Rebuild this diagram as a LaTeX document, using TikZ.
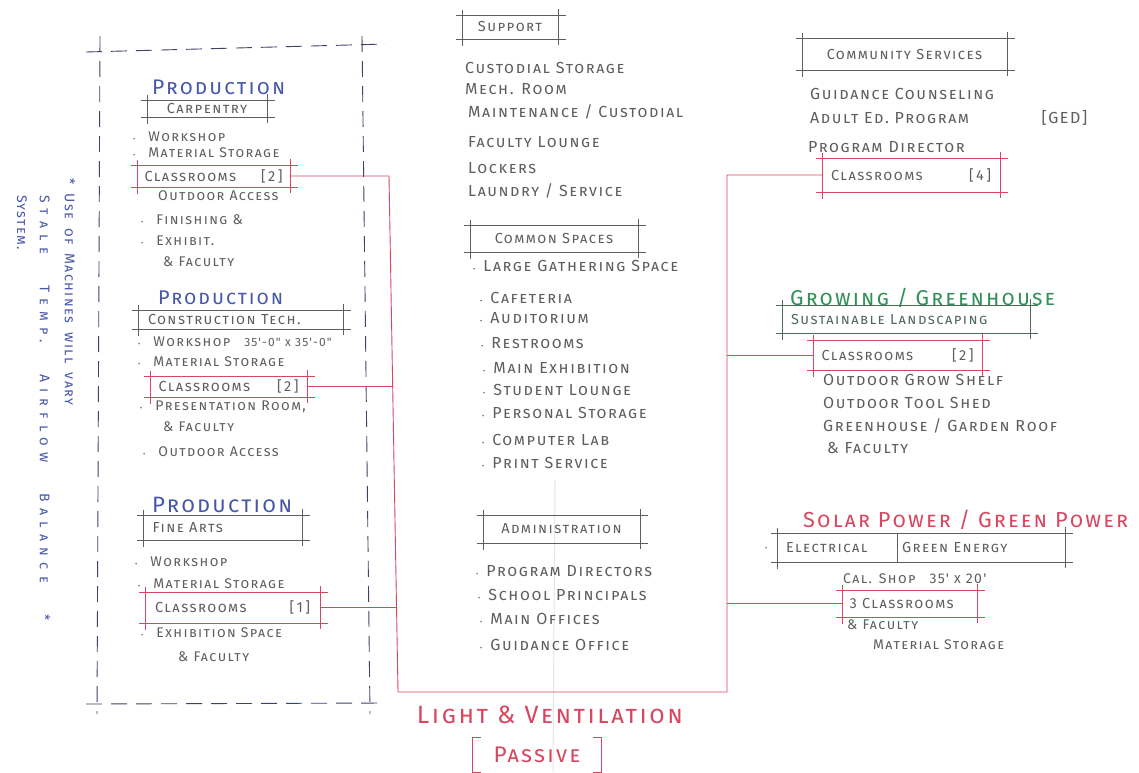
\documentclass[tikz,border=0pt]{standalone}
\usepackage{fontspec}
\newfontfamily\hand[Letters=SmallCaps,LetterSpace=10]{Fira Sans}
\usetikzlibrary{calc}
\definecolor{pencil}{HTML}{5E5E5E}
\definecolor{ink}{HTML}{4656A8}
\definecolor{rd}{HTML}{D8465F}
\definecolor{gr}{HTML}{2F9158}
\definecolor{grd}{HTML}{4F6A58}
\definecolor{frame}{HTML}{3C4468}
\definecolor{fold}{HTML}{E6E6E6}
\newcommand\bu{{\fontsize{7}{7}\selectfont\textbullet}\hspace{8pt}}
\newcommand\bul{{\fontsize{7}{7}\selectfont\textbullet}\hspace{13pt}}
\newcommand\fw[2]{\resizebox{#1}{!}{#2}}
\newcommand\tk[2][pencil]{%
  \draw[#1,line width=0.6pt]
    ([xshift=-6pt]#2.north west) -- ([xshift=8pt]#2.north east)
    ([xshift=-6pt]#2.south west) -- ([xshift=8pt]#2.south east)
    ([yshift=5pt]#2.north west) -- ([yshift=-7pt]#2.south west)
    ([yshift=6pt]#2.north east) -- ([yshift=-6pt]#2.south east);}
\begin{document}
\begin{tikzpicture}[x=1pt,y=-1pt,
  t/.style={anchor=west,inner sep=0pt,font=\hand\fontsize{14}{16}\selectfont,text=pencil},
  tc/.style={anchor=west,inner sep=0pt,font=\hand\fontsize{16}{18}\selectfont,text=pencil},
  ttl/.style={anchor=west,inner sep=0pt,font=\hand\fontsize{13}{15}\selectfont},
  bx/.style={inner sep=0pt,font=\hand\fontsize{14.5}{16}\selectfont,text=pencil},
  conn/.style={rd,line width=0.9pt},
  dsh/.style={frame,line width=0.9pt,dash pattern=on 16pt off 9pt},
  vn/.style={anchor=west,inner sep=0pt,rotate=-90,text=ink,font=\hand\fontsize{14}{16}\selectfont}]
\useasboundingbox[fill=white] (0,0) rectangle (1139,772);

% paper fold
\draw[fold,line width=1pt] (555,480) -- (553,772);

% dashed frame
\draw[dsh] (86,52) -- (386,44);
\draw[dsh] (86,704) -- (384,703);
\draw[dsh] (100,36) -- (97,714);
\draw[dsh] (362,36) -- (370,714);

% side note
\node[vn] (n1) at (70,178) {\makebox[227pt][s]{* Use of Machines will vary}};
\node[vn] (n2) at (45,195) {\addfontfeature{LetterSpace=45}\makebox[425pt][s]{Stale Temp.\ Airflow Balance *}};
\node[vn] (n3) at (22,195) {System.};

% ---------- block 1
\node[ttl,text=ink] (p1) at (152,87) {\fw{133pt}{Production}};
\node[bx,minimum width=120pt,minimum height=17pt] (h1) at (207,108.5) {Carpentry};
\tk{h1}
\node[t] (a1) at (133,137) {\bul Workshop};
\node[t] (a2) at (133,153) {\bul Material Storage};
\node[bx,minimum width=153pt,minimum height=22pt] (c1) at (213.5,176) {\makebox[138pt]{Classrooms\hfill[\,2\,]}};
\tk[rd]{c1}
\node[t] (a3) at (158,196) {Outdoor Access};
\node[t] (a4) at (141,220) {\bul Finishing \&};
\node[t] (a5) at (141,241) {\bul Exhibit.};
\node[t] (a6) at (163,262) {\& Faculty};

% ---------- block 2
\node[ttl,text=ink] (p2) at (158,298) {\fw{125pt}{Production}};
\node[bx,minimum width=205pt,minimum height=19pt] (h2) at (240.5,319.5) {\makebox[185pt][l]{Construction Tech.}};
\tk{h2}
\node[t] (b1) at (138,342) {\bul Workshop\hspace{14pt}\fontsize{12}{14}\selectfont 35'-0" x 35'-0"};
\node[t] (b2) at (138,362) {\bul Material Storage};
\node[bx,minimum width=157pt,minimum height=21pt] (c2) at (228.5,386.5) {\makebox[140pt]{Classrooms\hfill[\,2\,]}};
\tk[rd]{c2}
\node[t] (b3) at (140,407) {\bul Presentation Room,};
\node[t] (b4) at (163,427) {\& Faculty};
\node[t] (b5) at (143,452) {\bul Outdoor Access};

% ---------- block 3
\node[ttl,text=ink] (p3) at (152,505) {\fw{140pt}{Production}};
\node[bx,minimum width=159pt,minimum height=25pt] (h3) at (222.5,527.5) {\makebox[140pt][l]{Fine Arts}};
\tk{h3}
\node[t] (d1) at (135,562) {\bul Workshop};
\node[t] (d2) at (138,584) {\bul Material Storage};
\node[bx,minimum width=175pt,minimum height=31pt] (c3) at (232.5,607.5) {\makebox[155pt]{Classrooms\hfill[\,1\,]}};
\tk[rd]{c3}
\node[t] (d3) at (141,633) {\bul Exhibition Space};
\node[t] (d4) at (178,657) {\& Faculty};

% ---------- centre column
\node[bx,minimum width=96pt,minimum height=24pt] (sup) at (510,27) {Support};
\tk{sup}
\node[tc] (s1) at (465,68) {Custodial Storage};
\node[tc] (s2) at (465,89) {Mech. Room};
\node[tc] (s3) at (468,112) {Maintenance / Custodial};
\node[tc] (s4) at (468,142) {Faculty Lounge};
\node[tc] (s5) at (468,168) {Lockers};
\node[tc] (s6) at (468,191) {Laundry / Service};

\node[bx,minimum width=168pt,minimum height=27pt] (cs) at (554,238.5) {Common Spaces};
\tk{cs}
\node[tc] (m1) at (473,266) {\bu Large Gathering Space};
\node[tc] (m2) at (480,298) {\bu Cafeteria};
\node[tc] (m3) at (480,318) {\bu Auditorium};
\node[tc] (m4) at (481,343) {\bu Restrooms};
\node[tc] (m5) at (483,368) {\bu Main Exhibition};
\node[tc] (m6) at (483,390) {\bu Student Lounge};
\node[tc] (m7) at (482,413) {\bu Personal Storage};
\node[tc] (m8) at (482,440) {\bu Computer Lab};
\node[tc] (m9) at (482,463) {\bu Print Service};

\node[bx,minimum width=157pt,minimum height=28pt] (adm) at (561.5,529) {Administration};
\tk{adm}
\node[tc] (e1) at (476,571) {\bu Program Directors};
\node[tc] (e2) at (478,595) {\bu School Principals};
\node[tc] (e3) at (480,619) {\bu Main Offices};
\node[tc] (e4) at (480,645) {\bu Guidance Office};

% ---------- right column
\node[bx,minimum width=205pt,minimum height=32pt] (com) at (904.5,54) {Community Services};
\tk{com}
\node[tc] (r1) at (810,94) {Guidance Counseling};
\node[tc] (r2) at (810,118) {\makebox[277pt][l]{Adult Ed.\ Program\hfill[GED]}};
\node[tc] (r3) at (808,147) {Program Director};
\node[bx,minimum width=178pt,minimum height=34pt] (c4) at (911,175) {\makebox[160pt]{Classrooms\hfill[\,4\,]}};
\tk[rd]{c4}

\node[ttl,text=gr] (gro) at (790,298) {\fw{265pt}{Growing / Greenhouse}};
\node[bx,text=grd,minimum width=248pt,minimum height=28pt] (sus) at (906,319) {\makebox[230pt][l]{Sustainable Landscaping}};
\tk[grd]{sus}
\node[bx,minimum width=169pt,minimum height=30pt] (c5) at (897.5,355) {\makebox[152pt]{Classrooms\hfill[\,2\,]}};
\tk[rd]{c5}
\node[tc] (g1) at (823,380) {Outdoor Grow Shelf};
\node[tc] (g2) at (823,403) {Outdoor Tool Shed};
\node[tc] (g3) at (823,426) {Greenhouse / Garden Roof};
\node[tc] (g4) at (827,448) {\& Faculty};

\node[ttl,text=rd] (sol) at (803,520) {\fw{325pt}{Solar Power / Green Power}};
\node[bx,minimum width=288pt,minimum height=29pt] (ele) at (921,547.5) {\makebox[270pt][l]{\makebox[116pt][l]{Electrical}Green Energy}};
\tk{ele}
\coordinate (dv) at (897,0);
\draw[pencil,line width=0.6pt] (ele.north -| dv) -- (ele.south -| dv);
\node[t] (eb) at (765,549) {{\fontsize{7}{7}\selectfont\textbullet}};
\node[t] (o1) at (843,579) {Cal. Shop\hspace{14pt}35' x 20'};
\node[bx,minimum width=135pt,minimum height=27pt] (c6) at (909.5,603.5) {\makebox[120pt][l]{3 Classrooms}};
\tk[rd]{c6}
\node[t] (o2) at (847,625) {\& Faculty};
\node[t] (o3) at (873,645) {Material Storage};

% ---------- bottom label
\node[ttl,text=rd,anchor=center] (lv) at (550,715) {\fw{266pt}{Light \& Ventilation}};
\node[bx,text=rd,minimum width=129pt,minimum height=34pt] (pas) at (537,755) {\fw{87pt}{Passive}};
\draw[rd,line width=0.7pt] ([xshift=9pt]pas.north west) -- (pas.north west) -- (pas.south west) -- ([xshift=9pt]pas.south west);
\draw[rd,line width=0.7pt] ([xshift=-9pt]pas.north east) -- (pas.north east) -- (pas.south east) -- ([xshift=-9pt]pas.south east);

% ---------- red circulation spine
\coordinate (lTop) at (389,176);
\coordinate (lBot) at (398,692);
\coordinate (rBot) at (727,692);
\coordinate (rTop) at (727,175);
\coordinate (xl2) at (393,0);
\coordinate (xl3) at (396,0);
\draw[conn] (c1.east) -- (lTop) -- (lBot) -- (rBot) -- (rTop) -- (c4.west);
\draw[conn] (c2.east) -- (c2.east -| xl2);
\draw[conn] (c3.east) -- (c3.east -| xl3);
\draw[conn] (c5.west) -- (c5.west -| rTop);
\draw[conn] (c6.west) -- (c6.west -| rTop);
\end{tikzpicture}
\end{document}
